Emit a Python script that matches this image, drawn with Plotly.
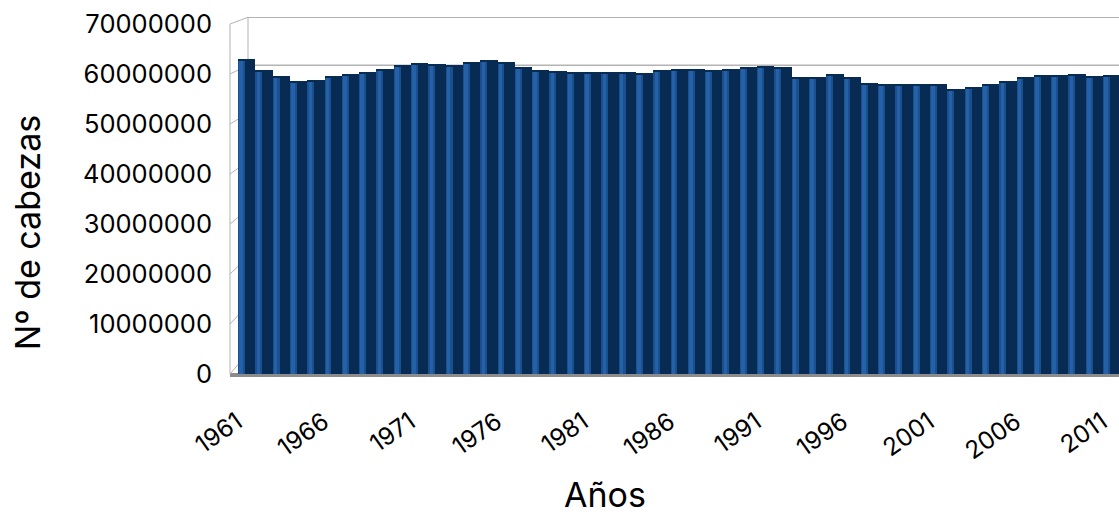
import plotly.graph_objects as go

# Head counts per year (1961-2011)
years = list(range(1961, 2012))
heads = [
    63000000, 60900000, 59600000, 58700000, 58900000, 59600000, 60100000, 60500000, 61100000, 61800000,
    62300000, 62000000, 61800000, 62400000, 62800000, 62500000, 61500000, 60900000, 60600000, 60400000,
    60400000, 60400000, 60500000, 60300000, 60800000, 61000000, 61000000, 60800000, 61000000, 61400000,
    61600000, 61500000, 59500000, 59400000, 60100000, 59500000, 58300000, 58000000, 58000000, 58000000,
    58100000, 57000000, 57500000, 58100000, 58700000, 59500000, 59800000, 59900000, 60100000, 59600000,
    59800000,
]
y_ticks = [0, 10000000, 20000000, 30000000, 40000000, 50000000, 60000000, 70000000]
y_tick_text = [str(v) for v in y_ticks]
x_ticks = [1961, 1966, 1971, 1976, 1981, 1986, 1991, 1996, 2001, 2006, 2011]
x_tick_text = [str(v) for v in x_ticks]
# year labels sit slightly left of the bar centres
x_tick_pos = [v - 0.55 for v in x_ticks]

FONT = "Inter"
GRID = "#b3b3b3"
BAR_DARK = "#082b54"
BAR_MID = "#1a5090"
BAR_LIGHT = "#2461a6"
CAP = 400000  # dark rounded cap above the lit stripe of each bar

# pseudo-3D walls: the back wall sits deeper, so its levels are expressed
# in front-axis units through a small perspective mapping
BACK_BASE = 4.2e6
BACK_SCALE = 0.9592
BACK_X = 18 / 889  # paper x of the back wall's left edge


def back(v):
    return BACK_BASE + BACK_SCALE * v


shapes = []
# floor strip
shapes.append(dict(type="rect", xref="paper", yref="y", x0=0, x1=1, y0=-600000, y1=200000,
                   fillcolor="#8c8c8c", line=dict(width=0), layer="below"))
for v in y_ticks:
    # back wall gridline
    shapes.append(dict(type="line", xref="paper", yref="y", x0=BACK_X, x1=1, y0=back(v), y1=back(v),
                       line=dict(color=GRID, width=1.3), layer="below"))
    # side wall gridline
    shapes.append(dict(type="line", xref="paper", yref="y", x0=0, x1=BACK_X, y0=v, y1=back(v),
                       line=dict(color=GRID, width=1), layer="below"))
# side wall front edge and back wall left edge
shapes.append(dict(type="line", xref="paper", yref="y", x0=0, x1=0, y0=0, y1=y_ticks[-1],
                   line=dict(color=GRID, width=1), layer="below"))
shapes.append(dict(type="line", xref="paper", yref="y", x0=BACK_X, x1=BACK_X, y0=back(0), y1=back(y_ticks[-1]),
                   line=dict(color=GRID, width=1), layer="below"))

lit = [h - CAP for h in heads]

fig = go.Figure()
fig.add_trace(go.Bar(x=years, y=heads, width=1.0, marker=dict(color=BAR_DARK, line=dict(width=0))))
fig.add_trace(go.Bar(x=years, y=lit, width=0.4, offset=-0.5, marker=dict(color=BAR_MID, line=dict(width=0))))
fig.add_trace(go.Bar(x=years, y=lit, width=0.2, offset=-0.42, marker=dict(color=BAR_LIGHT, line=dict(width=0))))

fig.update_layout(
    width=1119, height=518,
    margin=dict(l=230, r=0, t=17, b=140, pad=0),
    paper_bgcolor="white", plot_bgcolor="white",
    barmode="overlay", bargap=0,
    showlegend=False, hovermode=False,
    shapes=shapes,
    xaxis=dict(range=[1960.0376, 2011.425], tickvals=x_tick_pos, ticktext=x_tick_text, tickangle=-35,
               showgrid=False, zeroline=False, showline=False, ticks="", ticklabelstandoff=24,
               ticklabeloverflow="allow",
               tickfont=dict(family=FONT, size=24.5, color="black")),
    yaxis=dict(range=[-800000, 71400000], tickvals=y_ticks, ticktext=y_tick_text,
               showgrid=False, zeroline=False, showline=False, ticks="", ticklabelstandoff=17,
               tickfont=dict(family=FONT, size=25.5, color="black")),
    annotations=[
        dict(text="Nº de cabezas", xref="paper", yref="paper", x=-0.228, y=0.4044, textangle=-90,
             showarrow=False, xanchor="center", yanchor="middle",
             font=dict(family=FONT, size=34, color="black")),
        dict(text="Años", xref="paper", yref="paper", x=0.4218, y=-0.322,
             showarrow=False, xanchor="center", yanchor="middle",
             font=dict(family=FONT, size=34, color="black")),
    ],
)

fig.write_html("out.html")
